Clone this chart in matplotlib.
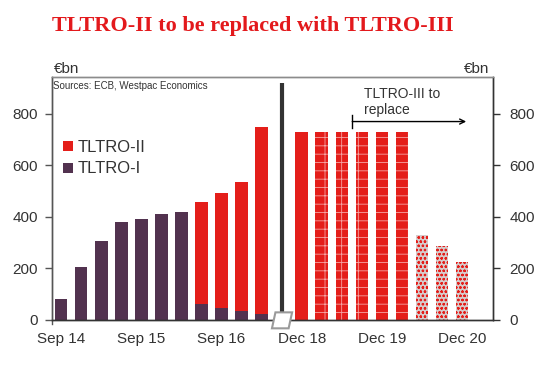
import numpy as np
import matplotlib
matplotlib.use("Agg")
import matplotlib.pyplot as plt
from matplotlib.patches import Polygon

# ---------------- data ----------------
quarters = ['Sep 14', 'Dec 14', 'Mar 15', 'Jun 15', 'Sep 15', 'Dec 15', 'Mar 16',
            'Jun 16', 'Sep 16', 'Dec 16', 'Mar 17', '',
            'Dec 18', 'Mar 19', 'Jun 19', 'Sep 19', 'Dec 19', 'Mar 20', 'Jun 20',
            'Sep 20', 'Dec 20']
tltro1 = [80, 207, 306, 379, 391, 411, 420, 62, 48, 35, 22, 0,
          0, 0, 0, 0, 0, 0, 0, 0, 0]
tltro2 = [0, 0, 0, 0, 0, 0, 0, 394, 444, 501, 726, 0,
          727, 0, 0, 0, 0, 0, 0, 0, 0]
tltro2_outstanding = [0] * 13 + [727, 727, 727, 727, 727, 0, 0, 0]
tltro2_runoff = [0] * 18 + [330, 287, 225]
yticks = [0, 200, 400, 600, 800]
break_index = 11

RED = '#E41E1A'
PURPLE = '#52324F'
TXT = '#333333'

plt.rcParams['font.family'] = ['Liberation Sans', 'DejaVu Sans']
plt.rcParams['hatch.linewidth'] = 0.6

fig = plt.figure(figsize=(5.48, 3.65), dpi=100)
ax = fig.add_axes([0.0943, 0.1233, 0.8047, 0.6667])

x = np.arange(len(quarters))
w = 0.63
ax.bar(x, tltro1, width=w, color=PURPLE, linewidth=0)
ax.bar(x, tltro2, width=w, bottom=tltro1, color=RED, linewidth=0)
ax.bar(x, tltro2_outstanding, width=w, color=RED, edgecolor='#F5A3A3',
       hatch='--|', linewidth=0)
ax.bar(x, tltro2_runoff, width=w, color='#D6CCCC', edgecolor=RED,
       hatch='oooo', linewidth=0)

# legend handles
ax.bar([np.nan], [np.nan], color=RED, label='TLTRO-II')
ax.bar([np.nan], [np.nan], color=PURPLE, label='TLTRO-I')

ymax = 943
xmin, xmax = -0.47, 21.52
ax.set_xlim(xmin, xmax)
ax.set_ylim(0, ymax)

# break line
ax.plot([break_index, break_index], [0, ymax * 0.972], color='#333333', lw=3,
        solid_capstyle='butt', zorder=3)

# ticks
ax.set_xticks(x[::4])
ax.set_xticklabels([quarters[i] for i in x[::4]], fontsize=11, color=TXT)
ax.tick_params(axis='x', length=0, pad=9)
ax.set_yticks(yticks)
ax.set_yticklabels([str(v) for v in yticks], fontsize=11, color=TXT)
ax.tick_params(axis='y', direction='out', length=5, width=1, color='#555555', pad=5)

ax2 = ax.twinx()
ax2.set_ylim(0, ymax)
ax2.set_yticks(yticks)
ax2.set_yticklabels([str(v) for v in yticks], fontsize=11, color=TXT)
ax2.tick_params(axis='y', direction='out', length=5, width=1, color='#333333', pad=7)

for a in (ax, ax2):
    a.spines['top'].set_color('#8C8C8C')
    a.spines['left'].set_color('#555555')
    a.spines['right'].set_color('#333333')
    a.spines['bottom'].set_color('#333333')
    for s in a.spines.values():
        s.set_linewidth(1)

# left corner tick on x-axis
ax.plot([xmin, xmin], [0, -14], color='#555555', lw=1, clip_on=False)

# break marker (parallelogram), sized in points around the break position
px0, py0 = ax.transData.transform((break_index, 0))
scale = fig.dpi / 72.0
pts = np.array([[-4.5, 5.5], [7.5, 5.5], [5.0, -6.0], [-7.0, -6.0]])
disp = [(px0 + dx * scale, py0 + dy * scale) for dx, dy in pts]
poly = Polygon(disp, closed=True, facecolor='white', edgecolor='#9A9A9A',
               lw=1.5, transform=None, clip_on=False, zorder=5)
fig.patches.append(poly)

# legend
leg = ax.legend(loc='upper left', bbox_to_anchor=(0.0, 0.787), frameon=False,
                fontsize=12, handlelength=0.55, handleheight=0.55,
                handletextpad=0.3, labelspacing=0.38, borderaxespad=0.3)
for t in leg.get_texts():
    t.set_color(TXT)

# source
ax.text(0.003, 0.963, 'Sources: ECB, Westpac Economics', transform=ax.transAxes,
        fontsize=7, color=TXT, va='center', ha='left')

# annotation
arrow_start, arrow_end, arrow_y = 14.52, 20.2, 769
ax.text(15.12, 845, 'TLTRO-III to\nreplace', fontsize=10, color=TXT,
        ha='left', va='center', linespacing=1.2)
ax.annotate('', xy=(arrow_end, arrow_y), xytext=(arrow_start, arrow_y),
            arrowprops=dict(arrowstyle='->', color='black', lw=1,
                            mutation_scale=9, shrinkA=0, shrinkB=0))
ax.plot([arrow_start, arrow_start], [arrow_y - 26, arrow_y + 26], color='black', lw=1)

# title and units
fig.text(0.0943, 0.93, 'TLTRO-II to be replaced with TLTRO-III',
         family=['Liberation Serif'], weight='bold', fontsize=16, color='#E3191C',
         va='center', ha='left')
fig.text(0.0985, 1 - 69 / 365, '€bn', fontsize=11, color=TXT, va='center', ha='left')
fig.text(0.893, 1 - 69 / 365, '€bn', fontsize=11, color=TXT, va='center', ha='right')

fig.savefig('out.png', dpi=100)
